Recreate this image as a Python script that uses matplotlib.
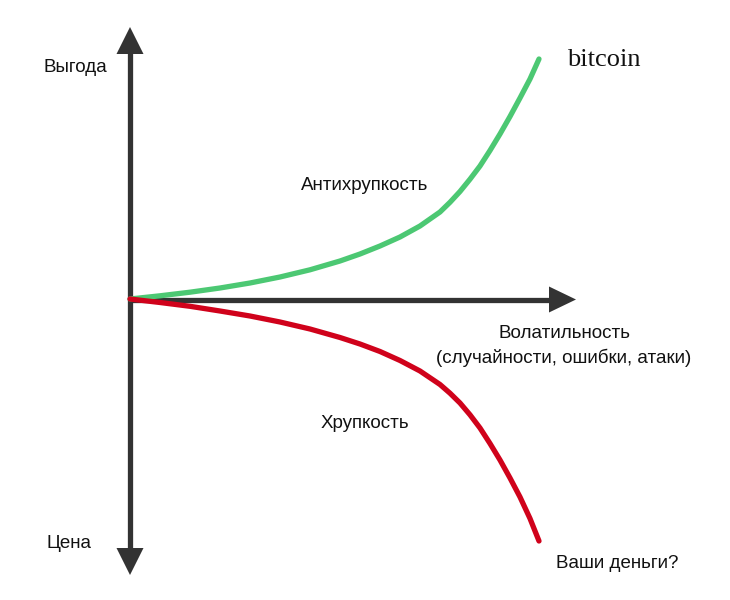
import matplotlib
matplotlib.use("Agg")
import matplotlib.pyplot as plt
from matplotlib.patches import FancyArrow

# Curve points (pixel space: x right, y down)
curve_x = [130, 160, 190, 220, 250, 280, 310, 340, 360, 380, 400, 420, 440, 450, 460, 470,
           480, 490, 500, 510, 520, 530, 539]
green_y = [299, 295.8, 292.2, 288.0, 283.0, 277.0, 269.8, 261.0, 254.0, 246.0, 237.0, 226.0,
           212.0, 202.3, 191.5, 179.2, 166.0, 150.5, 134.0, 116.5, 98.0, 79.0, 59.0]
red_y = [299, 302.5, 306.3, 311.0, 316.0, 322.0, 329.0, 337.5, 344.0, 351.5, 360.5, 371.0,
         384.5, 393.2, 403.0, 414.8, 428.0, 443.5, 460.0, 478.0, 497.0, 518.5, 541.0]

labels = {
    "Выгода": (75, 67),
    "Цена": (69, 543),
    "Антихрупкость": (365, 185),
    "Волатильность": (564, 333),
    "(случайности, ошибки, атаки)": (564, 358),
    "Хрупкость": (365, 424),
    "Ваши деньги?": (617, 563),
}

plt.rcParams['font.family'] = ['Liberation Sans', 'DejaVu Sans']

fig = plt.figure(figsize=(7.3, 6.0), dpi=100)
ax = fig.add_axes([0, 0, 1, 1])
ax.set_xlim(0, 730)
ax.set_ylim(600, 0)
ax.axis('off')

axis_col = '#333333'
# vertical axis with two arrow heads
ax.plot([130, 130], [50, 552], color=axis_col, lw=3.8, solid_capstyle='butt', zorder=2)
ax.add_patch(FancyArrow(130, 60, 0, -33, width=0, head_width=27, head_length=27,
                        length_includes_head=True, color=axis_col, lw=0, zorder=2))
ax.add_patch(FancyArrow(130, 540, 0, 35, width=0, head_width=27, head_length=27,
                        length_includes_head=True, color=axis_col, lw=0, zorder=2))
# horizontal axis
ax.plot([130, 556], [299.5, 299.5], color=axis_col, lw=3.8, solid_capstyle='butt', zorder=2)
ax.add_patch(FancyArrow(545, 299.5, 31, 0, width=0, head_width=26, head_length=27,
                        length_includes_head=True, color=axis_col, lw=0, zorder=2))

ax.plot(curve_x, green_y, color='#4cc873', lw=3.8, solid_capstyle='round',
        solid_joinstyle='round', zorder=3)
ax.plot(curve_x, red_y, color='#d0021b', lw=3.8, solid_capstyle='round',
        solid_joinstyle='round', zorder=3)

for t, (x, y) in labels.items():
    ax.text(x, y, t, ha='center', va='center', fontsize=13.5, color='#111111')

ax.text(604, 60, "bitcoin", ha='center', va='center', fontsize=19,
        family=['Liberation Serif', 'DejaVu Serif'], color='#111111')

fig.savefig('out.png', dpi=100, facecolor='white')
